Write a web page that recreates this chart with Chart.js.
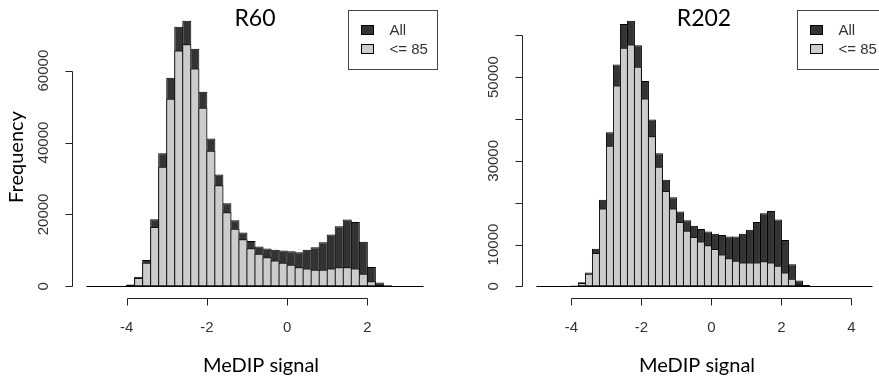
<!DOCTYPE html>
<html>
<head>
<meta charset="utf-8">
<title>MeDIP signal</title>
<script src="https://cdn.jsdelivr.net/npm/chart.js@4.4.1/dist/chart.umd.min.js"></script>
<style>
  body { margin: 0; background: #fff; }
  #wrap { position: relative; width: 879px; height: 380px; overflow: hidden; background: #fff; }
  canvas { position: absolute; top: 0; }
  #left { left: 0; }
  #right { left: 440px; }
</style>
</head>
<body>
<div id="wrap">
  <canvas id="left" width="440" height="380"></canvas>
  <canvas id="right" width="439" height="380"></canvas>
</div>
<script>
// Bin-Mitten (Breite 0.2), R60
const binsR60 = [-4.9, -4.7, -4.5, -4.3, -4.1, -3.9, -3.7, -3.5, -3.3, -3.1, -2.9, -2.7, -2.5, -2.3,
  -2.1, -1.9, -1.7, -1.5, -1.3, -1.1, -0.9, -0.7, -0.5, -0.3, -0.1, 0.1, 0.3, 0.5, 0.7, 0.9,
  1.1, 1.3, 1.5, 1.7, 1.9, 2.1, 2.3, 2.5, 2.7, 2.9, 3.1, 3.3];
const allR60 = [0, 0, 0, 0, 0, 500, 2700, 7300, 18700, 37000, 58000, 72200, 73900, 66100,
  54100, 41100, 31100, 23100, 18400, 15000, 12600, 11100, 10500, 10200, 10000, 9800, 9500, 10200, 10900, 12300,
  14400, 16700, 18600, 17900, 12400, 5400, 1100, 300, 0, 0, 0, 0];
const lowR60 = [0, 0, 0, 0, 0, 300, 2300, 6600, 16500, 33300, 52200, 65600, 67300, 60600,
  49700, 37700, 28100, 20600, 16000, 13100, 10600, 9100, 8100, 7200, 6600, 6000, 5300, 5000, 4600, 4600,
  5000, 5300, 5300, 5000, 3500, 1400, 400, 100, 0, 0, 0, 0];

// R202
const binsR202 = [-4.9, -4.7, -4.5, -4.3, -4.1, -3.9, -3.7, -3.5, -3.3, -3.1, -2.9, -2.7, -2.5, -2.3,
  -2.1, -1.9, -1.7, -1.5, -1.3, -1.1, -0.9, -0.7, -0.5, -0.3, -0.1, 0.1, 0.3, 0.5, 0.7, 0.9,
  1.1, 1.3, 1.5, 1.7, 1.9, 2.1, 2.3, 2.5, 2.7, 2.9, 3.1, 3.3, 3.5, 3.7, 3.9, 4.1, 4.3, 4.5];
const allR202 = [0, 0, 0, 0, 0, 200, 1000, 3300, 9000, 20700, 36800, 53000, 62700, 63500,
  57600, 49100, 39900, 31800, 25500, 21300, 17900, 15800, 14500, 13700, 13100, 12600, 12300, 11900, 11900, 12600,
  13500, 15400, 17500, 18000, 16000, 11100, 5300, 1400, 300, 0, 0, 0, 0, 0, 0, 0, 0, 0];
const lowR202 = [0, 0, 0, 0, 0, 100, 800, 3000, 8000, 18600, 33600, 48000, 57000, 57800,
  52500, 44900, 35900, 28600, 22800, 18600, 15400, 13300, 11800, 10700, 9800, 8900, 7600, 6700, 6100, 5700,
  5700, 5700, 6000, 5700, 4900, 3300, 1800, 500, 100, 0, 0, 0, 0, 0, 0, 0, 0, 0];

// Achsenbeschriftungen
const xTicksR60 = [-4, -2, 0, 2];
const yTicksR60 = [0, 20000, 40000, 60000];
const yLabelsR60 = ['0', '20000', '40000', '60000'];
const xTicksR202 = [-4, -2, 0, 2, 4];
const yTicksR202 = [0, 10000, 20000, 30000, 40000, 50000, 60000];
const yLabelsR202 = ['0', '10000', '', '30000', '', '50000', ''];
const legendLabels = ['All', '<= 85'];
const DARK = '#333333';
const LIGHT = '#cccccc';

// R-Stil: Achsen, Nulllinie, Legende und Texte selber zeichnen
const rStyle = {
  id: 'rStyle',
  afterDraw(chart, args, o) {
    const ctx = chart.ctx;
    const xs = chart.scales.x, ys = chart.scales.y, area = chart.chartArea;
    ctx.save();

    // Nulllinie ueber alle Klassen
    const y0 = Math.round(ys.getPixelForValue(0)) + 0.5;
    ctx.strokeStyle = '#000';
    ctx.lineWidth = 1;
    ctx.beginPath();
    ctx.moveTo(xs.getPixelForValue(o.bins[0] - 0.1), y0);
    ctx.lineTo(xs.getPixelForValue(o.bins[o.bins.length - 1] + 0.1), y0);
    ctx.stroke();

    // x-Achse
    const ax = Math.round(area.bottom) + 1.5;
    ctx.strokeStyle = '#222';
    ctx.beginPath();
    ctx.moveTo(Math.round(xs.getPixelForValue(o.xTicks[0])) + 0.5, ax);
    ctx.lineTo(Math.round(xs.getPixelForValue(o.xTicks[o.xTicks.length - 1])) + 0.5, ax);
    o.xTicks.forEach(v => {
      const px = Math.round(xs.getPixelForValue(v)) + 0.5;
      ctx.moveTo(px, ax);
      ctx.lineTo(px, ax + 7);
    });
    ctx.stroke();
    ctx.fillStyle = '#333';
    ctx.font = '15px "Liberation Sans", Arial, sans-serif';
    ctx.textAlign = 'center';
    ctx.textBaseline = 'middle';
    o.xTicks.forEach(v => ctx.fillText(String(v), xs.getPixelForValue(v), 328));

    // y-Achse
    const ay = Math.round(area.left) - 0.5;
    ctx.beginPath();
    ctx.moveTo(ay, Math.round(ys.getPixelForValue(o.yTicks[0])) + 0.5);
    ctx.lineTo(ay, Math.round(ys.getPixelForValue(o.yTicks[o.yTicks.length - 1])) + 0.5);
    o.yTicks.forEach(v => {
      const py = Math.round(ys.getPixelForValue(v)) + 0.5;
      ctx.moveTo(ay, py);
      ctx.lineTo(ay - 7, py);
    });
    ctx.stroke();
    o.yTicks.forEach((v, i) => {
      if (!o.yLabels[i]) return;
      ctx.save();
      ctx.translate(ay - 29, ys.getPixelForValue(v));
      ctx.rotate(-Math.PI / 2);
      ctx.fillText(o.yLabels[i], 0, 0);
      ctx.restore();
    });

    // Legende oben rechts
    const lw = 89, lh = 59;
    const lx = Math.round(o.legendRight - lw) + 0.5, ly = Math.round(area.top) + 0.5;
    ctx.strokeStyle = '#444';
    ctx.strokeRect(lx, ly, lw, lh);
    [DARK, LIGHT].forEach((c, i) => {
      const sy = ly + 15 + i * 19;
      ctx.fillStyle = c;
      ctx.fillRect(lx + 13, sy, 12, 9);
      ctx.strokeStyle = '#000';
      ctx.strokeRect(lx + 13, sy, 12, 9);
      ctx.fillStyle = '#333';
      ctx.textAlign = 'left';
      ctx.fillText(legendLabels[i], lx + 41, sy + 5);
    });

    // Titel und Achsentitel
    ctx.fillStyle = '#000';
    ctx.textAlign = 'center';
    ctx.font = '23px Lato, "Open Sans", sans-serif';
    ctx.fillText(o.title, o.titleX, 19);
    ctx.font = '20px Lato, "Open Sans", sans-serif';
    ctx.fillText('MeDIP signal', o.xlabX, 366);
    if (o.ylab) {
      ctx.save();
      ctx.translate(17, 157);
      ctx.rotate(-Math.PI / 2);
      ctx.fillText(o.ylab, 0, 0);
      ctx.restore();
    }
    ctx.restore();
  }
};

function makeHist(id, bins, allVals, lowVals, xTicks, s) {
  const barPct = s.binPx ? (s.binPx + 1) / s.binPx : 1;
  const toXY = vals => vals.map((v, i) => ({x: bins[i], y: v}));
  return new Chart(document.getElementById(id), {
    type: 'bar',
    data: {
      datasets: [
        {
          label: legendLabels[0],
          data: toXY(allVals),
          backgroundColor: DARK,
          borderColor: '#000',
          borderWidth: 1,
          borderSkipped: false,
          grouped: false,
          barPercentage: barPct,
          categoryPercentage: 1,
          order: 1
        },
        {
          label: legendLabels[1],
          data: toXY(lowVals),
          backgroundColor: LIGHT,
          borderColor: '#111',
          borderWidth: 1,
          borderSkipped: false,
          grouped: false,
          barPercentage: barPct,
          categoryPercentage: 1,
          order: 0
        }
      ]
    },
    options: {
      responsive: false,
      animation: false,
      layout: {padding: s.padding},
      plugins: {
        legend: {display: false},
        tooltip: {enabled: false},
        rStyle: s.r
      },
      scales: {
        x: {
          type: 'linear', display: false, offset: false, min: s.xmin, max: s.xmax,
          afterBuildTicks: axis => { axis.ticks = xTicks.map(v => ({value: v})); }
        },
        y: {display: false, min: s.ymin, max: s.ymax}
      }
    },
    plugins: [rStyle]
  });
}

makeHist('left', binsR60, allR60, lowR60, xTicksR60, {
  binPx: 8,
  padding: {left: 73, right: 3, top: 10, bottom: 83},
  xmin: -5.336, xmax: 3.736, ymin: -2956, ymax: 76856,
  r: {bins: binsR60, xTicks: xTicksR60, yTicks: yTicksR60, yLabels: yLabelsR60,
      legendRight: 437, title: 'R60', titleX: 255, xlabX: 261, ylab: 'Frequency'}
});

makeHist('right', binsR202, allR202, lowR202, xTicksR202, {
  binPx: 7,
  padding: {left: 83, right: 0, top: 10, bottom: 83},
  xmin: -5.384, xmax: 4.787, ymin: -2540, ymax: 66040,
  r: {bins: binsR202, xTicks: xTicksR202, yTicks: yTicksR202, yLabels: yLabelsR202,
      legendRight: 446, title: 'R202', titleX: 264, xlabX: 257, ylab: ''}
});
</script>
</body>
</html>
